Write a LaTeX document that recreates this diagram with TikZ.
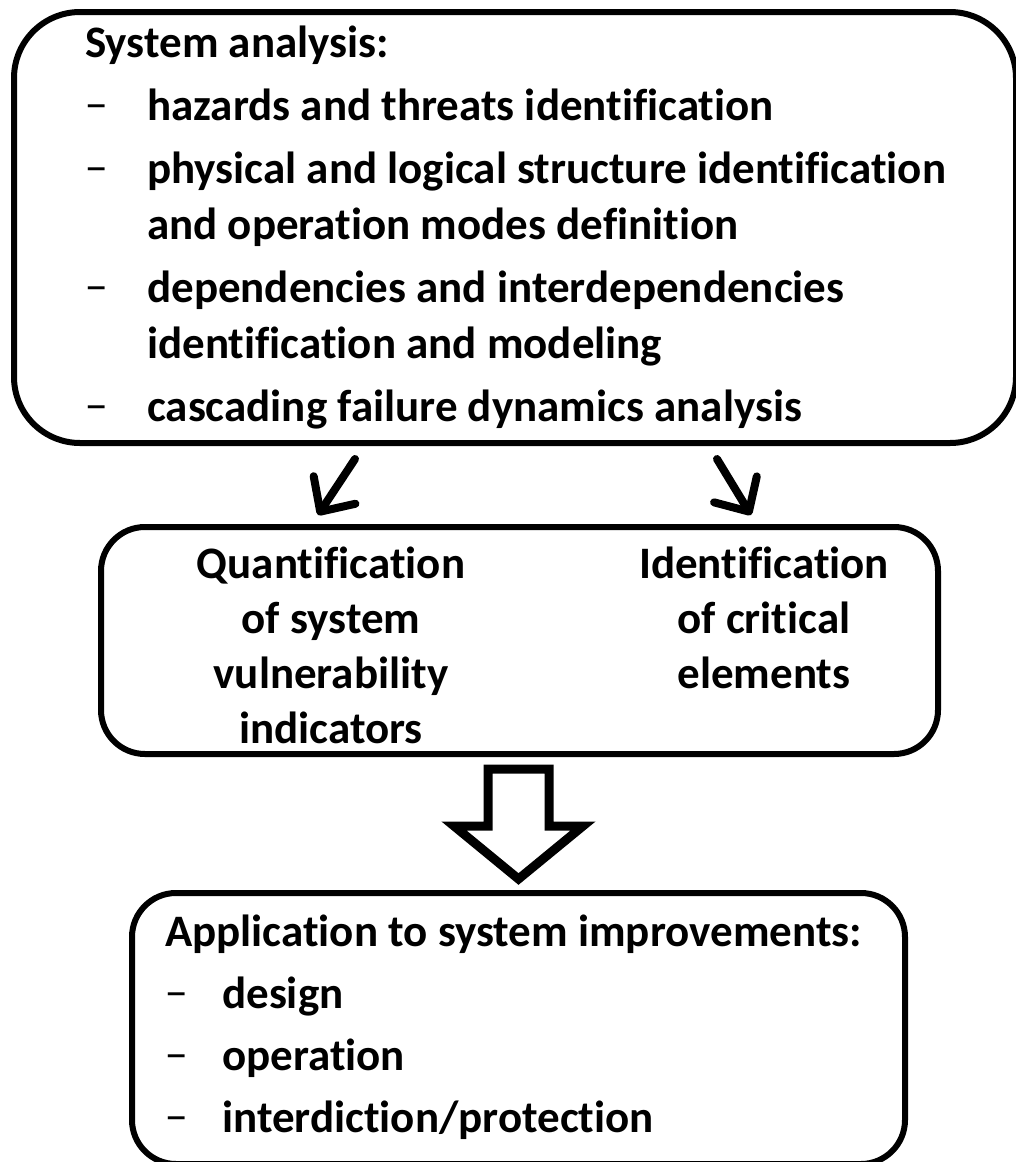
\documentclass[tikz,border=0pt]{standalone}
\usepackage{fontspec}
\setmainfont{Carlito}[Ligatures={NoCommon}]
\usetikzlibrary{arrows.meta,positioning}

\begin{document}
\begin{tikzpicture}[x=1pt, y=-1pt,
        box/.style={draw, line width=6pt, rounded corners=#1, inner sep=0pt},
        box/.default=44pt,
        txt/.style={anchor=base west, inner sep=0pt, font=\fontsize{45}{55}\selectfont\bfseries},
        ctxt/.style={txt, anchor=base},
        dashtxt/.style={txt, font=\fontsize{45}{55}\selectfont\mdseries},
        thinarrow/.style={line width=8pt, line cap=round, -{Straight Barb[round, length=26pt, width=50pt]}},
        bigarrow/.style={draw, line width=9pt, miter limit=20, fill=white}]
        \clip (0,0) rectangle (1016,1162);
        \node[box=66pt, minimum width=1002pt, minimum height=431pt] (sys) at (515,227.5) {}; % analysis
        \node[box, minimum width=837pt, minimum height=227pt] (res) at (519.5,640.5) {};      % results
        \node[box, minimum width=773pt, minimum height=271pt] (app) at (518.5,1028.5) {};     % application

        \node[txt] (sa) at (85,57) {System analysis:};
        \node[dashtxt] (d1) at (85,120) {−};
        \node[txt] (t1) at (147,120) {hazards and threats identification};
        \node[dashtxt] (d2) at (85,183) {−};
        \node[txt] (t2) at (147,183) {physical and logical structure identification};
        \node[txt] (t2b) at (147,239) {and operation modes definition};
        \node[dashtxt] (d3) at (85,302) {−};
        \node[txt] (t3) at (147,302) {dependencies and interdependencies};
        \node[txt] (t3b) at (147,358) {identification and modeling};
        \node[dashtxt] (d4) at (85,421) {−};
        \node[txt] (t4) at (147,421) {cascading failure dynamics analysis};

        \node[ctxt] (q1) at (331,578) {Quantification};
        \node[ctxt] (q2) at (331,633) {of system};
        \node[ctxt] (q3) at (331,688) {vulnerability};
        \node[ctxt] (q4) at (331,743) {indicators};
        \node[ctxt] (c1) at (764,578) {Identification};
        \node[ctxt] (c2) at (764,633) {of critical};
        \node[ctxt] (c3) at (764,688) {elements};

        \node[txt] (ap) at (165,946) {Application to system improvements:};
        \node[dashtxt] (e1) at (165,1008) {−};
        \node[txt] (a1) at (222,1008) {design};
        \node[dashtxt] (e2) at (165,1070) {−};
        \node[txt] (a2) at (222,1070) {operation};
        \node[dashtxt] (e3) at (165,1132) {−};
        \node[txt] (a3) at (222,1132) {interdiction/protection};

        \coordinate (la) at (355,459);
        \coordinate (lb) at (318,515);
        \coordinate (ra) at (717,459);
        \coordinate (rb) at (751,515);
        \draw[thinarrow] (la) -- (lb);
        \draw[thinarrow] (ra) -- (rb);

        \path[bigarrow] (488,769) -- (549,769) -- (549,826) -- (583,826) -- (518.5,879)
            -- (454,826) -- (488,826) -- cycle; % down to application
    \end{tikzpicture}
\end{document}
